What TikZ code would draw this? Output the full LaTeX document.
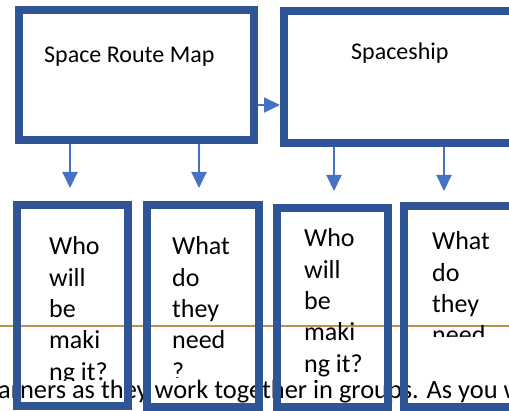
\documentclass[tikz,border=0pt]{standalone}
\usepackage{fontspec}
\setmainfont{Carlito}
\usepackage{xcolor}
\usepackage{tikz}
\usetikzlibrary{positioning, arrows.meta}

\definecolor{frameblue}{RGB}{47,85,151}
\definecolor{arrowblue}{RGB}{68,114,196}
\definecolor{ruleorange}{RGB}{191,143,78}

\begin{document}
\begin{tikzpicture}[x=1pt, y=-1pt,
        frame/.style={draw=frameblue, line width=8pt, inner sep=0pt},
        flow/.style={arrowblue, line width=2pt, -{Triangle[length=16pt, width=15pt]}},
        boxtxt/.style={anchor=base west, inner sep=0pt, align=left, font=\fontsize{26}{31.3}\selectfont},
        toptxt/.style={anchor=base west, inner sep=0pt, font=\fontsize{24}{29}\selectfont}]
        \useasboundingbox (0,0) rectangle (509,411);
        \clip (0,0) rectangle (509,411);
        % page behind the diagram
        \draw[ruleorange, line width=1.5pt] (0,326) -- (509,326);
        \node[anchor=base west, inner sep=0pt, font=\fontsize{26.4}{32}\selectfont] (body) at (-2,399) {arners as they work together in groups. As you w};
        % top row
        \node[frame, minimum width=235pt, minimum height=130pt] (map) at (136.5,75) {};
        \node[frame, minimum width=276pt, minimum height=132pt] (ship) at (422,77) {};
        \node[toptxt] (maptxt) at (44,63) {Space Route Map};
        \node[toptxt] (shiptxt) at (351,60) {Spaceship};
        % bottom row (text nodes sit on their last line)
        \node[frame, minimum width=111pt, minimum height=201pt] (who1) at (72.5,305.5) {};
        \node[frame, minimum width=112pt, minimum height=202pt] (what1) at (203,306) {};
        \node[frame, minimum width=111pt, minimum height=199pt] (who2) at (332.5,307.5) {};
        \node[frame, minimum width=116pt, minimum height=201pt] (what2) at (462,306.5) {};
        \begin{scope}
            \clip (21,209) rectangle (124,381);
            \node[boxtxt] (who1txt) at (49,380.2) {Who\\will\\be\\maki\\ng it?};
        \end{scope}
        \begin{scope}
            \clip (152,209) rectangle (255,378);
            \node[boxtxt] (what1txt) at (172,380.2) {What\\do\\they\\need\\?};
        \end{scope}
        \node[boxtxt] (who2txt) at (304,372.2) {Who\\will\\be\\maki\\ng it?};
        \begin{scope}
            \clip (407,210) rectangle (509,337);
            \node[boxtxt] (what2txt) at (432,343.9) {What\\do\\they\\need};
        \end{scope}
        % arrows
        \coordinate (m1) at (70,188); \coordinate (m2) at (199,188);
        \coordinate (s1) at (334,191); \coordinate (s2) at (444,191);
        \draw[flow] ([yshift=-30pt]map.east) -- ([yshift=-30pt]map.east -| ship.west);
        \foreach \t in {m1,m2} \draw[flow] (\t |- map.south) -- (\t);
        \foreach \t in {s1,s2} \draw[flow] (\t |- ship.south) -- (\t);
    \end{tikzpicture}
\end{document}
